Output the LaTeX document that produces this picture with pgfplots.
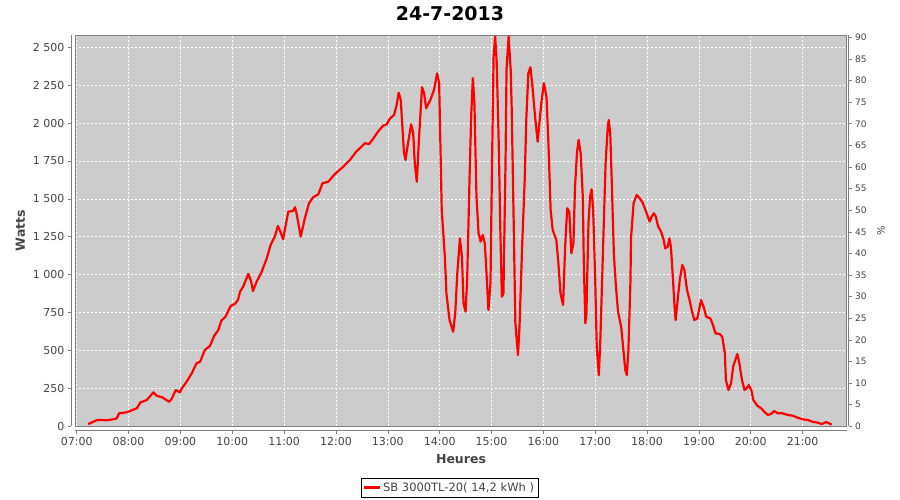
\documentclass[border=0pt]{standalone}
\usepackage{pgfplots}
\pgfplotsset{compat=1.18}
\usepackage{fontspec}
\setmainfont{DejaVu Sans}
\definecolor{plotbg}{HTML}{CCCCCC}
\definecolor{axisgray}{HTML}{808080}
\definecolor{labelgray}{HTML}{444444}

\begin{document}
\begin{tikzpicture}
\begin{axis}[
  scale only axis,
  width=771.4pt, height=391.3pt,
  xmin=6.973, xmax=21.85,
  ymin=0, ymax=2581,
  xtick={7,...,21},
  xticklabels={07:00,08:00,09:00,10:00,11:00,12:00,13:00,14:00,15:00,16:00,17:00,18:00,19:00,20:00,21:00},
  ytick={0,250,...,2500},
  yticklabels={0,250,500,750,1 000,1 250,1 500,1 750,2 000,2 250,2 500},
  xtick pos=left, ytick pos=left,
  tick align=outside,
  major tick length=3.5pt,
  axis background/.style={fill=plotbg},
  axis line style={axisgray, line width=0.8pt},
  every tick/.style={axisgray, line width=0.6pt},
  xtick style={yshift=-4pt},
  ytick style={xshift=-4pt},
  grid=major,
  grid style={white, dash pattern=on 2pt off 2pt, line width=0.6pt},
  ticklabel style={font=\fontsize{11}{13}\selectfont, text=labelgray},
  xticklabel style={yshift=-4pt},
  yticklabel style={xshift=-4pt},
  xlabel={Heures},
  xlabel style={font=\fontsize{12.5}{15}\selectfont\bfseries, text=labelgray,
    at={([yshift=-33pt]axis description cs:0.5,0)}, anchor=center},
  ylabel={Watts},
  ylabel style={font=\fontsize{12.5}{15}\selectfont\bfseries, text=labelgray,
    at={([xshift=-55pt]axis description cs:0,0.5)}, anchor=center},
  title={24-7-2013},
  title style={font=\fontsize{19}{22}\selectfont\bfseries,
    at={([yshift=15pt]axis description cs:0.4857,1)}, anchor=center},
  legend style={at={(axis description cs:0.4851,-0.1564)}, anchor=center,
    draw=black, fill=white, font=\fontsize{11.5}{13.5}\selectfont, text=labelgray,
    inner sep=2.2pt},
  legend image code/.code={\draw[#1] (0pt,0pt) -- (16pt,0pt);},
  extra description/.code={
    \draw[axisgray, line width=0.8pt] ([xshift=-4pt]axis description cs:0,0) -- ([xshift=-4pt]axis description cs:0,1);
    \draw[axisgray, line width=0.8pt] ([yshift=-4pt]axis description cs:0,0) -- ([yshift=-4pt]axis description cs:1,0);
  },
]
\addplot[red, line width=2.2pt, line join=round] coordinates {
(7.22,15) (7.40,42) (7.58,40) (7.74,48) (7.77,53) (7.82,86) (7.96,92) (8.03,101)
(8.16,119) (8.23,158) (8.35,173) (8.48,224) (8.54,202) (8.65,191) (8.78,162) (8.83,180)
(8.91,239) (8.99,224) (9.03,251) (9.12,294) (9.22,350) (9.31,415) (9.38,426) (9.47,503)
(9.57,530) (9.65,596) (9.73,635) (9.79,697) (9.87,723) (9.97,794) (10.05,807) (10.11,833)
(10.15,888) (10.21,921) (10.31,1005) (10.36,960) (10.40,892) (10.47,954) (10.56,1013)
(10.66,1102) (10.74,1196) (10.82,1251) (10.88,1321) (10.92,1290) (10.98,1234) (11.08,1416)
(11.17,1420) (11.21,1445) (11.24,1405) (11.32,1251) (11.40,1372) (11.48,1471) (11.56,1511)
(11.66,1530) (11.74,1603) (11.85,1613) (11.98,1664) (12.14,1712) (12.27,1757) (12.39,1811)
(12.56,1867) (12.64,1862) (12.71,1893) (12.81,1943) (12.91,1983) (12.98,1992) (13.04,2030)
(13.12,2053) (13.17,2119) (13.21,2200) (13.25,2152) (13.31,1811) (13.34,1757) (13.39,1867)
(13.45,1992) (13.49,1933) (13.52,1735) (13.56,1613) (13.60,1889) (13.66,2236) (13.70,2197)
(13.74,2098) (13.82,2152) (13.89,2218) (13.95,2328) (13.99,2263) (14.04,1427) (14.10,1119)
(14.13,877) (14.19,701) (14.26,624) (14.30,745) (14.34,1009) (14.39,1240) (14.43,1119)
(14.46,811) (14.50,756) (14.53,965) (14.58,1691) (14.61,2065) (14.64,2296) (14.67,2131)
(14.71,1515) (14.75,1273) (14.79,1218) (14.83,1262) (14.87,1207) (14.90,1031) (14.94,767)
(14.98,943) (15.01,1735) (15.04,2438) (15.07,2570) (15.10,2400) (15.14,1856) (15.17,1295)
(15.20,855) (15.23,877) (15.27,1735) (15.29,2362) (15.33,2570) (15.37,2350) (15.39,2086)
(15.43,1295) (15.46,679) (15.51,470) (15.54,657) (15.59,1185) (15.64,1625) (15.67,2020)
(15.71,2328) (15.75,2368) (15.79,2240) (15.84,2042) (15.89,1877) (15.96,2131) (16.01,2263)
(16.06,2174) (16.10,1844) (16.14,1427) (16.18,1295) (16.25,1229) (16.29,1075) (16.33,877)
(16.38,800) (16.42,1185) (16.46,1438) (16.50,1416) (16.54,1141) (16.58,1207) (16.61,1580)
(16.65,1811) (16.68,1889) (16.72,1801) (16.76,1515) (16.78,1075) (16.81,679) (16.83,745)
(16.87,1339) (16.90,1515) (16.93,1563) (16.96,1427) (17.00,965) (17.03,515) (17.07,338)
(17.10,580) (17.15,1163) (17.20,1735) (17.24,1966) (17.26,2020) (17.29,1933) (17.32,1603)
(17.36,1130) (17.40,921) (17.44,756) (17.50,657) (17.54,515) (17.58,371) (17.61,338)
(17.64,503) (17.68,965) (17.69,1240) (17.74,1471) (17.80,1526) (17.86,1504) (17.92,1471)
(17.98,1416) (18.05,1350) (18.09,1383) (18.13,1405) (18.17,1383) (18.21,1321) (18.27,1284)
(18.32,1229) (18.35,1174) (18.40,1185) (18.43,1240) (18.46,1185) (18.50,965) (18.53,789)
(18.55,701) (18.59,833) (18.63,965) (18.68,1064) (18.72,1031) (18.77,899) (18.82,833)
(18.86,767) (18.91,701) (18.97,712) (19.04,833) (19.09,789) (19.14,723) (19.22,712)
(19.27,668) (19.32,613) (19.40,609) (19.45,591) (19.50,481) (19.52,305) (19.57,239)
(19.62,284) (19.66,393) (19.74,477) (19.78,416) (19.83,305) (19.88,239) (19.92,251)
(19.96,272) (20.01,239) (20.05,173) (20.13,134) (20.20,119) (20.26,96) (20.33,75)
(20.39,81) (20.45,101) (20.52,86) (20.61,86) (20.71,75) (20.81,70) (20.90,57) (21.00,46)
(21.10,42) (21.19,30) (21.29,24) (21.37,15) (21.45,28) (21.51,20) (21.56,11)
};
\addlegendentry{SB 3000TL-20( 14,2 kWh )}
\end{axis}
\begin{axis}[
  scale only axis,
  width=771.4pt, height=391.3pt,
  xmin=6.973, xmax=21.85,
  ymin=0, ymax=90.54,
  hide x axis,
  axis y line*=right,
  y axis line style={-, axisgray, line width=0.8pt, xshift=2pt},
  ytick={0,5,...,90},
  tick align=outside,
  major tick length=3pt,
  ytick style={axisgray, line width=0.6pt, xshift=2pt},
  /pgf/number format/assume math mode=true,
  yticklabel style={font=\fontsize{9}{11}\selectfont, text=labelgray, xshift=2pt},
  ylabel={\%},
  ylabel style={font=\fontsize{10}{12}\selectfont, text=labelgray,
    at={([xshift=34.3pt]axis description cs:1,0.5)}, anchor=center, rotate=0},
]
\end{axis}
\pgfresetboundingbox
\useasboundingbox (-75.3pt,-73.7pt) rectangle (824.7pt,426.3pt);
\end{tikzpicture}
\end{document}
